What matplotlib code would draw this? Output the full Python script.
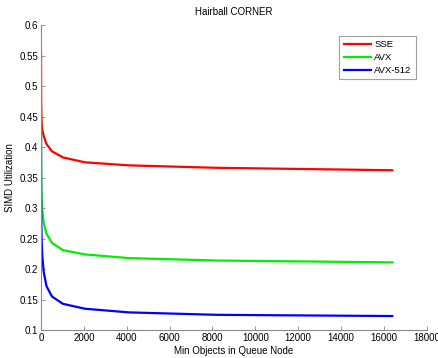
import matplotlib
matplotlib.use("Agg")
import matplotlib.pyplot as plt

plt.rcParams['font.family'] = ['Liberation Sans', 'DejaVu Sans']

x = [1, 2, 4, 8, 16, 32, 64, 128, 256, 512, 1024, 2048, 4096, 8192, 16384]
sse = [0.555, 0.53, 0.50, 0.475, 0.455, 0.44, 0.428, 0.418, 0.405, 0.393, 0.383, 0.375, 0.370, 0.366, 0.362]
avx = [0.46, 0.43, 0.40, 0.37, 0.34, 0.315, 0.295, 0.275, 0.258, 0.243, 0.231, 0.224, 0.218, 0.214, 0.211]
avx512 = [0.42, 0.38, 0.34, 0.30, 0.27, 0.245, 0.22, 0.195, 0.172, 0.155, 0.143, 0.135, 0.129, 0.125, 0.123]
labels = ['SSE', 'AVX', 'AVX-512']
colors = ['#ff0000', '#00ee00', '#0000ff']
xticks = list(range(0, 18001, 2000))
yticks = [0.1, 0.15, 0.2, 0.25, 0.3, 0.35, 0.4, 0.45, 0.5, 0.55, 0.6]
ytick_labels = ['0.1', '0.15', '0.2', '0.25', '0.3', '0.35', '0.4', '0.45', '0.5', '0.55', '0.6']

fig = plt.figure(figsize=(4.38, 3.58), dpi=100)
ax = fig.add_axes([0.0936, 0.078, 0.881, 0.852])
for ys, lab, c in zip([sse, avx, avx512], labels, colors):
    ax.plot(x, ys, color=c, lw=1.6, label=lab)

ax.set_xlim(0, 18000)
ax.set_ylim(0.1, 0.6)
ax.set_xticks(xticks)
ax.set_yticks(yticks)
ax.set_yticklabels(ytick_labels)
for s in ['top', 'right']:
    ax.spines[s].set_visible(False)
for s in ['left', 'bottom']:
    ax.spines[s].set_color('#888888')
    ax.spines[s].set_linewidth(0.8)
ax.tick_params(direction='in', length=3, width=0.6, color='#888888', labelsize=7, pad=2)
ax.set_xlabel('Min Objects in Queue Node', fontsize=7, labelpad=2)
ax.set_ylabel('SIMD Utilization', fontsize=7, labelpad=3)
ax.set_title('Hairball CORNER', fontsize=7, pad=7)
leg = ax.legend(loc='upper right', bbox_to_anchor=(0.9715, 0.964), borderaxespad=0,
                fontsize=6.8, frameon=True, fancybox=False, edgecolor='#888888',
                handlelength=2.9, borderpad=0.45, labelspacing=0.4, handletextpad=0.35)
leg.get_frame().set_linewidth(0.8)
fig.savefig('out.png', dpi=100)
